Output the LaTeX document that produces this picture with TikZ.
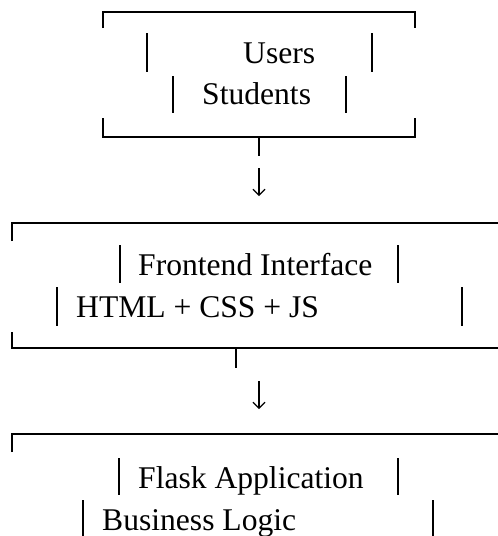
\documentclass[tikz,border=0pt]{standalone}
\usepackage{fontspec}
\setmainfont{Liberation Serif}
\usetikzlibrary{arrows.meta}
\begin{document}
\begin{tikzpicture}[x=1pt,y=-1pt,
  boxline/.style={line width=2.6pt,line cap=butt},
  bar/.style={line width=2.6pt},
  lbl/.style={anchor=base west,inner sep=0pt,font=\fontsize{31.6}{36}\selectfont},
  arr/.style={line width=1.1pt,-{Straight Barb[length=6pt,width=12pt,line width=1.1pt]}}]
\useasboundingbox (0,0) rectangle (498,536);
% Box 1
\draw[boxline] (103,28) -- (103,12) -- (415,12) -- (415,28);
\draw[boxline] (103,118) -- (103,137) -- (415,137) -- (415,118);
\draw[bar] (147,33) -- (147,72);
\draw[bar] (372,33) -- (372,72);
\node[lbl] (users) at (243,63) {Users};
\draw[bar] (173,76) -- (173,113);
\draw[bar] (346,76) -- (346,113);
\node[lbl] (students) at (202,104) {Students};
\coordinate (s1a) at (259,137);
\coordinate (s1b) at (259,156);
\draw[bar] (s1a) -- (s1b);
\coordinate (a1a) at (259,168);
\coordinate (a1b) at (259,196);
\draw[arr] (a1a) -- (a1b);
% Box 2
\draw[boxline] (12,241) -- (12,223) -- (498,223);
\draw[boxline] (12,332) -- (12,348) -- (498,348);
\draw[bar] (120,245) -- (120,283);
\draw[bar] (398,245) -- (398,283);
\node[lbl] (frontend) at (138,275) {Frontend Interface};
\draw[bar] (57,287) -- (57,326);
\draw[bar] (462,287) -- (462,326);
\node[lbl] (html) at (76,317) {HTML + CSS + JS};
\coordinate (s2a) at (236,348);
\coordinate (s2b) at (236,368);
\draw[bar] (s2a) -- (s2b);
\coordinate (a2a) at (259,381);
\coordinate (a2b) at (259,409);
\draw[arr] (a2a) -- (a2b);
% Box 3
\draw[boxline] (12,452) -- (12,434) -- (498,434);
\draw[bar] (119,458) -- (119,495);
\draw[bar] (398,458) -- (398,495);
\node[lbl] (flask) at (138,488) {Flask Application};
\draw[bar] (83,500) -- (83,540);
\draw[bar] (433,500) -- (433,540);
\node[lbl] (logic) at (102,530) {Business Logic};
\end{tikzpicture}
\end{document}
